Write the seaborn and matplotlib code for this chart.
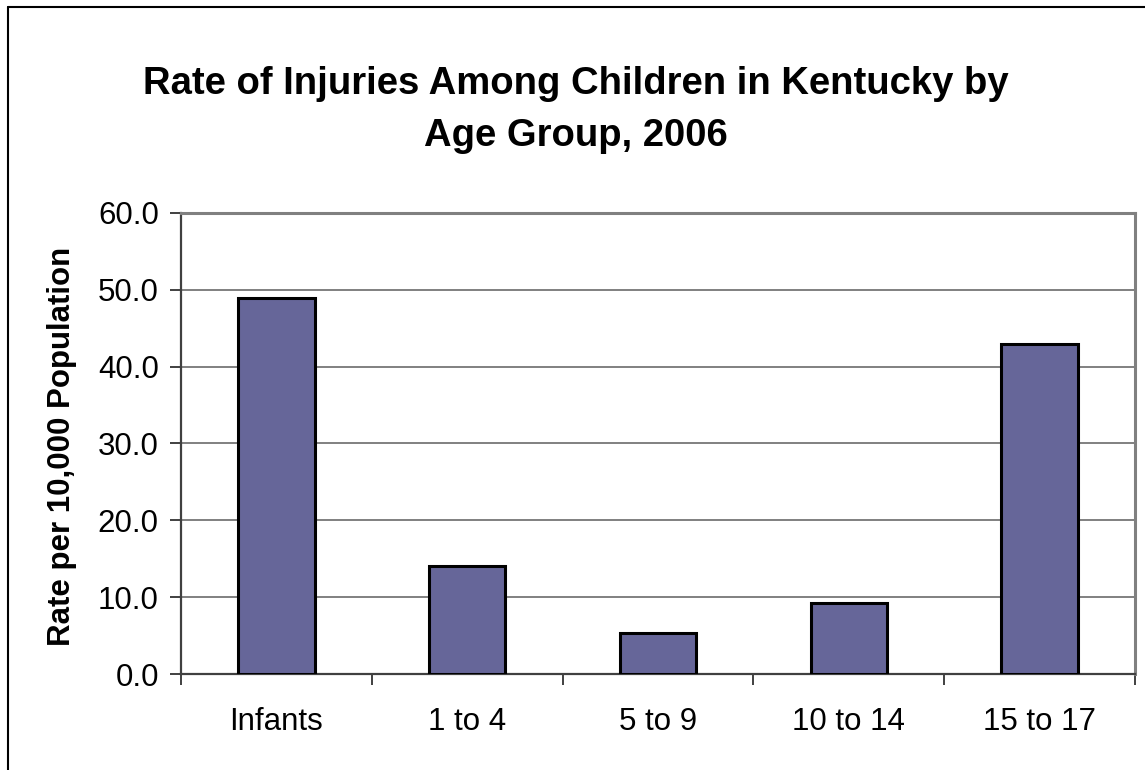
import matplotlib
matplotlib.use("Agg")
import matplotlib.pyplot as plt
from matplotlib.lines import Line2D
from matplotlib.ticker import FixedLocator, FormatStrFormatter
import seaborn as sns
import pandas as pd

age_groups = ["Infants", "1 to 4", "5 to 9", "10 to 14", "15 to 17"]
injury_rates = [48.9, 14.0, 5.4, 9.2, 42.9]
y_ticks = [0, 10, 20, 30, 40, 50, 60]

title_text = "Rate of Injuries Among Children in Kentucky by\nAge Group, 2006"
y_label = "Rate per 10,000 Population"

sns.set_theme(style="white")
plt.rcParams["font.family"] = ["Liberation Sans", "DejaVu Sans"]

W, H, DPI = 1145, 770, 100
fig = plt.figure(figsize=(W / DPI, H / DPI), dpi=DPI)
fig.patch.set_facecolor("white")

left, right, top, bottom = 181, 1135, 213, 674
ax = fig.add_axes([left / W, 1 - bottom / H, (right - left) / W, (bottom - top) / H])

df = pd.DataFrame({"age": age_groups, "rate": injury_rates})
sns.barplot(data=df, x="age", y="rate", ax=ax, color="#666699", saturation=1,
            width=0.4, edgecolor="black", linewidth=2.2, zorder=3)

ax.set_xlim(-0.5, len(age_groups) - 0.5)
ax.set_ylim(0, 60)
ax.set_yticks(y_ticks)
ax.yaxis.set_major_formatter(FormatStrFormatter("%.1f"))
ax.yaxis.grid(True, color="#808080", linewidth=1.4, zorder=0)
ax.xaxis.grid(False)

# category labels centred under bars, tick marks on category boundaries
ax.xaxis.set_minor_locator(FixedLocator([i - 0.5 for i in range(len(age_groups) + 1)]))
ax.tick_params(axis="x", which="major", length=0, pad=24, labelsize=22.5, labelcolor="black")
ax.tick_params(axis="x", which="minor", length=8, width=1.4, color="#404040", direction="out", bottom=True)
ax.tick_params(axis="y", which="major", length=8, width=1.4, color="#404040", direction="out",
               left=True, pad=8, labelsize=22.5, labelcolor="black")

ax.set_xlabel("")
ax.set_ylabel("")

for side in ["top", "right"]:
    ax.spines[side].set_visible(True)
    ax.spines[side].set_color("#808080")
    ax.spines[side].set_linewidth(2.2)
for side in ["left", "bottom"]:
    ax.spines[side].set_color("#404040")
    ax.spines[side].set_linewidth(1.6)

fig.text(62 / W, 1 - ((top + bottom) / 2 + 3) / H, y_label, rotation=90, ha="center", va="center",
         fontsize=22.5, fontweight="bold", color="black")

fig.text(576 / W, 1 - 110 / H, title_text, ha="center", va="center",
         fontsize=27.5, fontweight="bold", color="black", linespacing=1.6)

# outer chart frame (top and left edges visible)
fig.add_artist(Line2D([7.5 / W, 1.05], [1 - 7 / H, 1 - 7 / H], transform=fig.transFigure,
                      color="black", linewidth=1.5))
fig.add_artist(Line2D([7.5 / W, 7.5 / W], [1 - 7 / H, -0.05], transform=fig.transFigure,
                      color="black", linewidth=1.5))

fig.savefig("out.png", dpi=DPI, facecolor="white")
